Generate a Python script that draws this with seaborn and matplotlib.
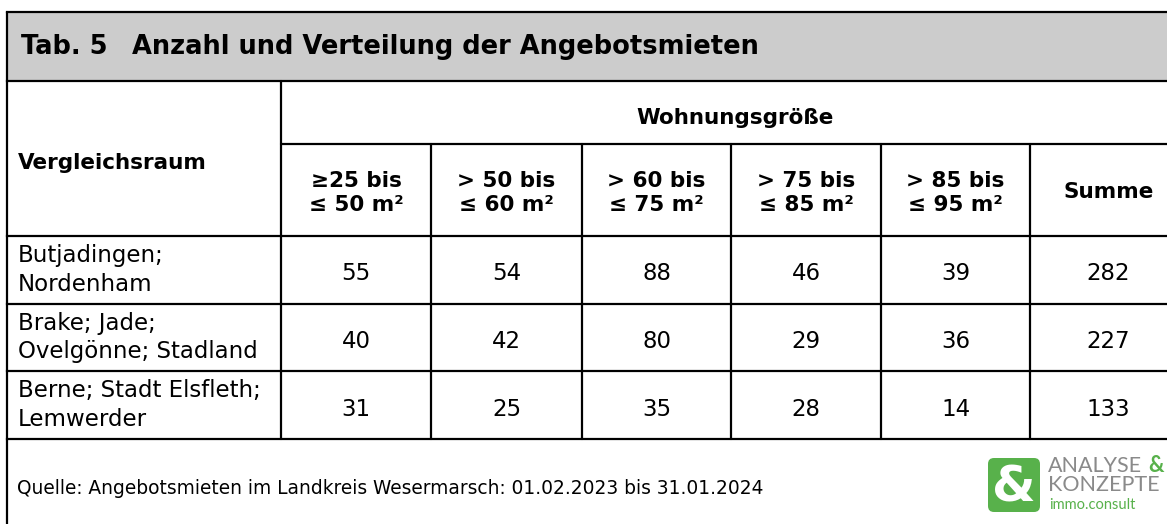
import matplotlib
matplotlib.use("Agg")
import matplotlib.pyplot as plt
from matplotlib.patches import Rectangle, FancyBboxPatch
import seaborn as sns

sns.set_theme(style="white")
plt.rcParams['font.family'] = ['DejaVu Sans']
plt.rcParams['text.color'] = 'black'

# table content
title_no = "Tab. 5"
title = "Anzahl und Verteilung der Angebotsmieten"
group_header = "Wohnungsgröße"
row_header = "Vergleichsraum"
size_classes = ["≥25 bis\n≤ 50 m²", "> 50 bis\n≤ 60 m²", "> 60 bis\n≤ 75 m²",
                "> 75 bis\n≤ 85 m²", "> 85 bis\n≤ 95 m²"]
sum_header = "Summe"
regions = ["Butjadingen;\nNordenham", "Brake; Jade;\nOvelgönne; Stadland",
           "Berne; Stadt Elsfleth;\nLemwerder"]
counts = [[55, 54, 88, 46, 39],
          [40, 42, 80, 29, 36],
          [31, 25, 35, 28, 14]]
totals = [282, 227, 133]
source = "Quelle: Angebotsmieten im Landkreis Wesermarsch: 01.02.2023 bis 31.01.2024"

# grid in pixel units
W, H = 1167, 524
col_x = [7, 281, 431, 582, 731, 881, 1030, W]
row_y = [12, 81, 144, 236, 304, 371, 439, H]
lw = 1.6

fig = plt.figure(figsize=(W / 100, H / 100), dpi=100)
ax = fig.add_axes([0, 0, 1, 1])
ax.set_xlim(0, W)
ax.set_ylim(H, 0)
ax.axis("off")

# title band
ax.add_patch(Rectangle((col_x[0], row_y[0]), W - col_x[0], row_y[1] - row_y[0],
                       facecolor="#cccccc", edgecolor="none"))
ax.text(21, 47, title_no, fontsize=18.5, fontweight="bold", va="center")
ax.text(132, 47, title, fontsize=18.5, fontweight="bold", va="center")

# lines
for y in [row_y[0], row_y[1], row_y[3], row_y[4], row_y[5], row_y[6]]:
    ax.plot([col_x[0], W], [y, y], color="black", lw=lw, solid_capstyle="projecting")
ax.plot([col_x[1], W], [row_y[2], row_y[2]], color="black", lw=lw)
ax.plot([col_x[0], col_x[0]], [row_y[0], H], color="black", lw=lw)
ax.plot([col_x[1], col_x[1]], [row_y[1], row_y[6]], color="black", lw=lw)
for x in col_x[2:-1]:
    ax.plot([x, x], [row_y[2], row_y[6]], color="black", lw=lw)

# headers
ax.text(735, 118, group_header, fontsize=15.5, fontweight="bold", ha="center", va="center")
ax.text(18, 163, row_header, fontsize=15.5, fontweight="bold", va="center")
for i, lab in enumerate(size_classes):
    cx = (col_x[i + 1] + col_x[i + 2]) / 2
    ax.text(cx, 193, lab, fontsize=15.5, fontweight="bold", ha="center", va="center",
            linespacing=1.25)
ax.text((col_x[6] + W) / 2 + 10, 192, sum_header, fontsize=15.5, fontweight="bold",
        ha="center", va="center")

# body
for r, (reg, vals, tot) in enumerate(zip(regions, counts, totals)):
    cy = (row_y[r + 3] + row_y[r + 4]) / 2
    ax.text(18, cy, reg, fontsize=16.5, va="center", linespacing=1.3)
    for c, v in enumerate(vals):
        cx = (col_x[c + 1] + col_x[c + 2]) / 2
        ax.text(cx, cy + 4, str(v), fontsize=16.5, ha="center", va="center")
    ax.text((col_x[6] + W) / 2 + 10, cy + 4, str(tot), fontsize=16.5, ha="center", va="center")

# footer
ax.text(17, 488, source, fontsize=13.4, va="center")

# logo
green = "#58b14b"
grey = "#8a8a8a"
ax.add_patch(FancyBboxPatch((991, 461), 46, 48, boxstyle="round,pad=3,rounding_size=6",
                            facecolor=green, edgecolor="none"))
ax.text(1014, 487, "&", fontsize=36, fontweight="bold", color="white",
        ha="center", va="center")
ax.text(1048, 466, "ANALYSE", fontsize=15.5, color=grey, va="center", family="Lato")
ax.text(1164, 466, "&", fontsize=15.5, color=green, fontweight="bold", ha="right",
        va="center", family="Lato")
ax.text(1048, 485, "KONZEPTE", fontsize=15.5, color=grey, va="center", family="Lato")
ax.text(1049, 505, "immo.consult", fontsize=10.5, color=green, va="center", family="Lato")

fig.savefig("out.png", dpi=100)
